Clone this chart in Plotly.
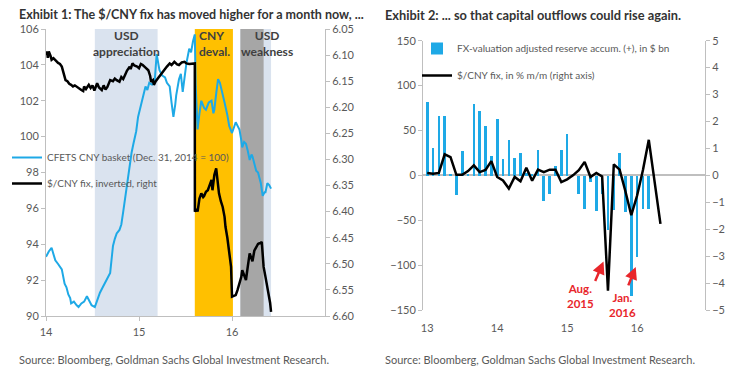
import plotly.graph_objects as go

W, H = 731, 387

# ---------------- Exhibit 1 data ----------------
cfets_t = [2014.00, 2014.03, 2014.06, 2014.08, 2014.10, 2014.13, 2014.17, 2014.20, 2014.22, 2014.24,
           2014.26, 2014.27, 2014.30, 2014.33, 2014.35, 2014.38, 2014.41, 2014.44, 2014.47, 2014.49,
           2014.525, 2014.55, 2014.58, 2014.61, 2014.63, 2014.66, 2014.69, 2014.71, 2014.72, 2014.74,
           2014.76, 2014.79, 2014.81, 2014.83, 2014.85, 2014.87, 2014.90, 2014.92, 2014.94, 2014.97,
           2014.99, 2015.02, 2015.04, 2015.07, 2015.09, 2015.11, 2015.14, 2015.17, 2015.19, 2015.21,
           2015.22, 2015.25, 2015.28, 2015.30, 2015.33, 2015.35, 2015.37, 2015.39, 2015.40, 2015.43,
           2015.45, 2015.47, 2015.49, 2015.51, 2015.54, 2015.56, 2015.58, 2015.60, 2015.61, 2015.63,
           2015.65, 2015.67, 2015.70, 2015.72, 2015.75, 2015.78, 2015.80, 2015.81, 2015.83, 2015.85,
           2015.87, 2015.88, 2015.90, 2015.92, 2015.95, 2015.97, 2016.00, 2016.02, 2016.04, 2016.06,
           2016.08, 2016.10, 2016.11, 2016.13, 2016.15, 2016.17, 2016.19, 2016.21, 2016.22, 2016.24,
           2016.26, 2016.28, 2016.29, 2016.31, 2016.33, 2016.35, 2016.36, 2016.38, 2016.40, 2016.42]
cfets_v = [93.3, 93.6, 93.8, 93.5, 93.1, 92.9, 92.6, 91.8, 91.6, 91.2,
           91.0, 90.7, 90.8, 90.6, 90.5, 90.7, 90.8, 91.1, 90.8, 90.6,
           90.5, 90.9, 91.3, 91.6, 91.8, 92.1, 92.4, 93.4, 93.9, 94.3,
           94.6, 94.8, 95.1, 95.8, 96.5, 97.4, 98.5, 99.1, 99.6, 100.3,
           101.1, 101.7, 102.2, 102.8, 102.6, 103.0, 102.9, 103.2, 104.6, 104.0,
           103.7, 103.4, 103.3, 103.0, 102.8, 101.9, 101.1, 101.8, 102.3, 103.2,
           103.5, 102.5, 103.3, 104.1, 104.9, 104.7, 105.3, 105.7, 102.8, 100.4,
           101.3, 102.0, 101.6, 101.5, 101.9, 102.0, 101.3, 101.5, 102.4, 103.2,
           103.0, 102.8, 102.3, 101.9, 101.2, 100.6, 100.2, 100.5, 100.8, 100.6,
           100.4, 99.8, 99.4, 99.7, 99.6, 99.2, 98.7, 99.0, 98.9, 98.5,
           98.1, 98.0, 97.8, 97.4, 96.7, 96.9, 96.9, 97.4, 97.3, 97.1]

fix_t = [2014.00, 2014.01, 2014.02, 2014.03, 2014.05, 2014.06, 2014.08, 2014.10, 2014.13, 2014.15,
         2014.17, 2014.19, 2014.21, 2014.23, 2014.25, 2014.27, 2014.29, 2014.31, 2014.33, 2014.35,
         2014.38, 2014.40, 2014.41, 2014.43, 2014.46, 2014.48, 2014.50, 2014.52, 2014.55, 2014.57,
         2014.60, 2014.62, 2014.64, 2014.66, 2014.68, 2014.69, 2014.72, 2014.74, 2014.76, 2014.79,
         2014.81, 2014.83, 2014.85, 2014.87, 2014.90, 2014.91, 2014.93, 2014.95, 2014.98, 2015.00,
         2015.02, 2015.04, 2015.07, 2015.10, 2015.12, 2015.13, 2015.15, 2015.16, 2015.18, 2015.20,
         2015.22, 2015.25, 2015.27, 2015.30, 2015.33, 2015.35, 2015.38, 2015.41, 2015.43, 2015.46,
         2015.49, 2015.51, 2015.54, 2015.57, 2015.60, 2015.601, 2015.62, 2015.63, 2015.65, 2015.67,
         2015.69, 2015.70, 2015.72, 2015.74, 2015.76, 2015.78, 2015.79, 2015.81, 2015.83, 2015.845,
         2015.86, 2015.88, 2015.90, 2015.92, 2015.93, 2015.95, 2015.97, 2015.99, 2016.00, 2016.02,
         2016.04, 2016.06, 2016.08, 2016.10, 2016.11, 2016.13, 2016.15, 2016.17, 2016.19, 2016.21,
         2016.22, 2016.24, 2016.26, 2016.28, 2016.29, 2016.31, 2016.32, 2016.34, 2016.36, 2016.38,
         2016.39, 2016.41, 2016.42]
fix_v = [6.100, 6.093, 6.105, 6.093, 6.102, 6.109, 6.106, 6.110, 6.115, 6.117,
         6.122, 6.135, 6.148, 6.150, 6.155, 6.157, 6.160, 6.158, 6.161, 6.164,
         6.167, 6.169, 6.160, 6.165, 6.157, 6.163, 6.158, 6.168, 6.154, 6.162,
         6.167, 6.158, 6.166, 6.161, 6.152, 6.148, 6.150, 6.145, 6.148, 6.151,
         6.142, 6.146, 6.138, 6.130, 6.122, 6.127, 6.116, 6.120, 6.122, 6.125,
         6.117, 6.119, 6.124, 6.129, 6.140, 6.151, 6.148, 6.157, 6.150, 6.145,
         6.141, 6.134, 6.129, 6.122, 6.116, 6.119, 6.113, 6.118, 6.119, 6.114,
         6.113, 6.116, 6.117, 6.116, 6.116, 6.400, 6.395, 6.400, 6.375, 6.365,
         6.372, 6.370, 6.362, 6.359, 6.350, 6.339, 6.359, 6.330, 6.317, 6.345,
         6.365, 6.380, 6.391, 6.410, 6.429, 6.450, 6.474, 6.506, 6.563, 6.562,
         6.560, 6.550, 6.537, 6.525, 6.512, 6.520, 6.531, 6.505, 6.480, 6.490,
         6.495, 6.475, 6.467, 6.462, 6.461, 6.460, 6.458, 6.506, 6.525, 6.544,
         6.557, 6.575, 6.592]

# shaded periods (start, end) in years
usd_appr = (2014.525, 2015.20)
cny_deval = (2015.60, 2016.01)
usd_weak_light = (2016.09, 2016.42)
usd_weak_dark = (2016.09, 2016.34)

left_ticks = [2014, 2015, 2016]
left_ticklabels = ["14", "15", "16"]

# ---------------- Exhibit 2 data ----------------
month_x = [2013 + i / 12 for i in range(41)]
reserve_accum = [82, 31, 67, 67, 2, -21, 27, 2, 80, 72, 55, 22,
                 63, 19, 40, 20, 25, 3, 2, 29, -28, -20, 11, 29,
                 46, 2, -20, -37, -7, -39, -20, -60, -38, 25, -41, -134,
                 -91, -37, -37]
fix_mm = [0.09, 0.06, 0.09, 0.78, 0.68, 0.02, 0.02, 0.16, 0.37, 0.12, 0.20, 0.53,
          -0.06, -0.19, -0.49, -0.06, -0.22, 0.28, -0.20, 0.21, 0.12, 0.21, 0.21, -0.25,
          -0.15, 0.00, 0.19, 0.50, -0.06, 0.09, -0.04, -4.28, 0.41, 0.21, -0.60, -1.48,
          -0.75, 0.20, 1.32, -0.20, -1.80]
right_ticks = [2013, 2014, 2015, 2016]
right_ticklabels = ["13", "14", "15", "16"]

FONT = "Lato"
BLUE = "#1ea9e6"
AXC = "#bfbfbf"
TXT = "#595959"

fig = go.Figure()

fig.add_trace(go.Scatter(x=cfets_t, y=cfets_v, mode="lines", line=dict(color=BLUE, width=2),
                         name="CFETS CNY basket (Dec. 31, 2014 = 100)", xaxis="x", yaxis="y",
                         legend="legend", legendgroup="a"))
fig.add_trace(go.Scatter(x=fix_t, y=fix_v, mode="lines", line=dict(color="black", width=2.5),
                         name="$/CNY fix, inverted, right", xaxis="x", yaxis="y2",
                         legend="legend", legendgroup="b"))
fig.add_trace(go.Bar(x=month_x[:len(reserve_accum)], y=reserve_accum, width=0.038,
                     marker=dict(color=BLUE, line=dict(width=0)),
                     name="FX-valuation adjusted reserve accum. (+), in $ bn",
                     xaxis="x2", yaxis="y3", legend="legend2", legendgroup="c"))
fig.add_trace(go.Scatter(x=month_x, y=fix_mm, mode="lines", line=dict(color="black", width=2.5),
                         name="$/CNY fix, in % m/m (right axis)", xaxis="x2", yaxis="y4",
                         legend="legend2", legendgroup="d"))

def px_x(p):
    return p / W

def px_y(p):
    return (H - p) / H

shapes = []
for (a, b), col in [(usd_appr, "#dae3ef"), (usd_weak_light, "#dae3ef"),
                    (cny_deval, "#ffc000"), (usd_weak_dark, "#a6a6a6")]:
    shapes.append(dict(type="rect", xref="x", yref="y domain", x0=a, x1=b, y0=0, y1=1,
                       fillcolor=col, line=dict(width=0), layer="below"))

annotations = [
    dict(text="<b>Exhibit 1: The $/CNY fix has moved higher for a month now, ...</b>",
         xref="paper", yref="paper", x=px_x(17), y=px_y(15), xanchor="left", yanchor="middle",
         showarrow=False, font=dict(family=FONT, size=12.5, color="#333333")),
    dict(text="<b>Exhibit 2: ... so that capital outflows could rise again.</b>",
         xref="paper", yref="paper", x=px_x(383), y=px_y(15), xanchor="left", yanchor="middle",
         showarrow=False, font=dict(family=FONT, size=12.8, color="#333333")),
    dict(text="Source: Bloomberg, Goldman Sachs Global Investment Research.",
         xref="paper", yref="paper", x=px_x(17), y=px_y(359), xanchor="left", yanchor="middle",
         showarrow=False, font=dict(family=FONT, size=11, color=TXT)),
    dict(text="Source: Bloomberg, Goldman Sachs Global Investment Research.",
         xref="paper", yref="paper", x=px_x(383), y=px_y(359), xanchor="left", yanchor="middle",
         showarrow=False, font=dict(family=FONT, size=11, color=TXT)),
    dict(text="<b>USD<br>appreciation</b>", xref="x", yref="paper", x=sum(usd_appr) / 2,
         y=px_y(26), xanchor="center", yanchor="top", showarrow=False,
         font=dict(family=FONT, size=12, color="#404040")),
    dict(text="<b>CNY<br>deval.</b>", xref="x", yref="paper", x=cny_deval[0] + 0.02,
         y=px_y(26), xanchor="left", yanchor="top", align="left", showarrow=False,
         font=dict(family=FONT, size=12, color="#404040")),
    dict(text="<b>USD<br>weakness</b>", xref="x", yref="paper", x=2016.38,
         y=px_y(26), xanchor="center", yanchor="top", showarrow=False,
         font=dict(family=FONT, size=12, color="#404040")),
    dict(text="<b>Aug.<br>2015</b>", xref="x2", yref="paper", x=2015.19, y=px_y(280),
         xanchor="center", yanchor="top", showarrow=False,
         font=dict(family=FONT, size=11.5, color="#e8262b")),
    dict(text="<b>Jan.<br>2016</b>", xref="x2", yref="paper", x=2015.79, y=px_y(289),
         xanchor="center", yanchor="top", showarrow=False,
         font=dict(family=FONT, size=11.5, color="#e8262b")),
    dict(text="", xref="x2", yref="y3", x=2015.52, y=-96, ax=-9, ay=21, axref="pixel", ayref="pixel",
         showarrow=True, arrowhead=2, arrowsize=1, arrowwidth=2.5, arrowcolor="#e8262b"),
    dict(text="", xref="x2", yref="y3", x=2015.98, y=-102, ax=-8, ay=20, axref="pixel", ayref="pixel",
         showarrow=True, arrowhead=2, arrowsize=1, arrowwidth=2.5, arrowcolor="#e8262b"),
]

tickfont = dict(family=FONT, size=11, color=TXT)
common_y = dict(showgrid=False, zeroline=False, showline=True, linecolor=AXC, linewidth=1,
                ticks="outside", ticklen=4, tickcolor=AXC, tickfont=tickfont, automargin=False)

fig.update_layout(
    template="none",
    width=W, height=H, margin=dict(l=0, r=0, t=0, b=0, pad=0, autoexpand=False),
    paper_bgcolor="white", plot_bgcolor="rgba(0,0,0,0)",
    font=dict(family=FONT),
    showlegend=True,
    bargap=0,
    xaxis=dict(domain=[px_x(46), px_x(325)], range=[2014, 2017], anchor="y",
               tickvals=left_ticks, ticktext=left_ticklabels, showgrid=False, zeroline=False,
               showline=True, linecolor=AXC, ticks="outside", ticklen=4, tickcolor=AXC,
               tickfont=tickfont, automargin=False, ticklabelstandoff=2),
    yaxis=dict(domain=[px_y(316), px_y(29)], range=[90, 106], dtick=2, anchor="x", **common_y),
    yaxis2=dict(overlaying="y", side="right", anchor="x", range=[6.60, 6.05], dtick=0.05,
                tickformat=".2f", **common_y),
    xaxis2=dict(domain=[px_x(423), px_x(705)], range=[2012.94, 2016.97], anchor="y3",
                tickvals=right_ticks, ticktext=right_ticklabels, showgrid=False, zeroline=False,
                showline=False, ticks="", tickfont=tickfont, automargin=False,
                ticklabelstandoff=10),
    yaxis3=dict(domain=[px_y(310), px_y(40.7)], range=[-150, 150], dtick=50, anchor="x2",
                showgrid=False, zeroline=True, zerolinecolor=AXC, zerolinewidth=1.5,
                showline=True, linecolor=AXC, ticks="outside", ticklen=4, tickcolor=AXC,
                tickfont=tickfont, automargin=False),
    yaxis4=dict(overlaying="y3", side="right", anchor="x2", range=[-5, 5], dtick=1, **common_y),
    legend=dict(x=px_x(7), y=px_y(143), xanchor="left", yanchor="top", bgcolor="rgba(0,0,0,0)",
                font=dict(family=FONT, size=10, color=TXT), tracegroupgap=7),
    legend2=dict(x=px_x(417), y=px_y(34), xanchor="left", yanchor="top", bgcolor="rgba(0,0,0,0)",
                 font=dict(family=FONT, size=10, color=TXT), tracegroupgap=8),
    shapes=shapes,
    annotations=annotations,
)

fig.write_html("out.html",
               config={"displayModeBar": False},
               post_script="document.body.style.margin='0';document.body.style.padding='0';"
                           "document.body.style.overflow='hidden';")
